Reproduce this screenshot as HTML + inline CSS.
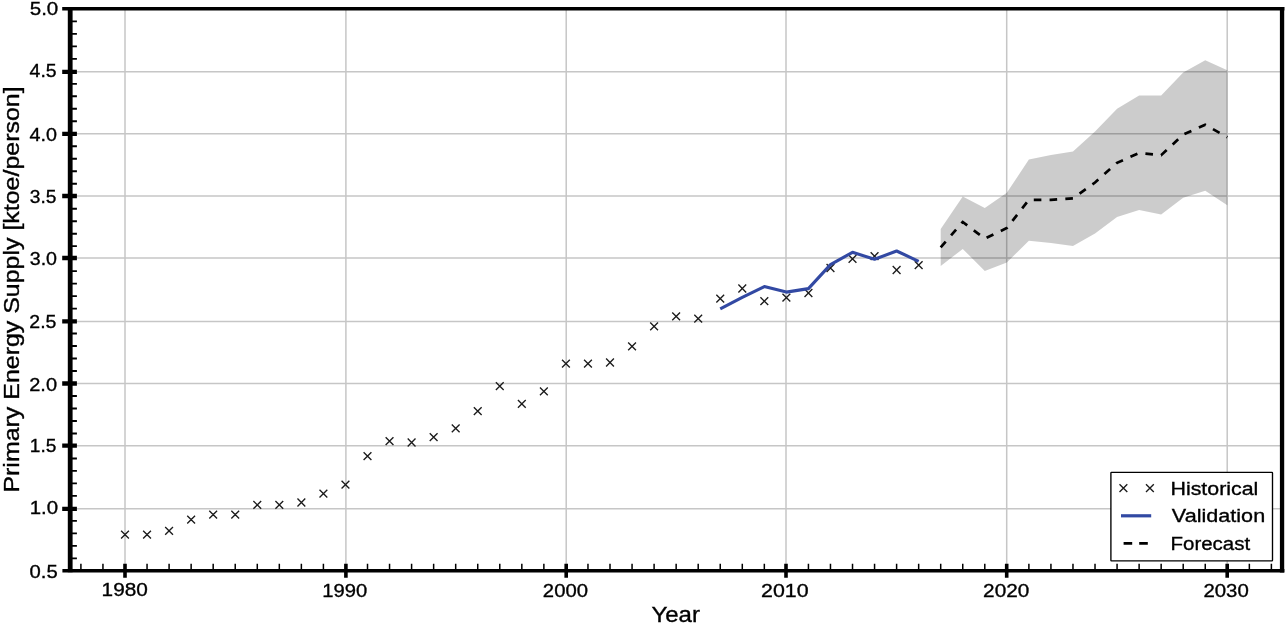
<!DOCTYPE html>
<html><head><meta charset="utf-8"><style>
html,body{margin:0;padding:0;background:#fff;width:1288px;height:627px;overflow:hidden;}
svg{display:block;font-family:"Liberation Sans",sans-serif;will-change:transform;}
text{stroke:#000;stroke-width:0.35px;}
</style></head><body>
<svg width="1288" height="627" viewBox="0 0 1288 627">
<rect width="1288" height="627" fill="#fff"/>
<line x1="125.0" y1="8.8" x2="125.0" y2="570.75" stroke="#c6c6c6" stroke-width="1.5"/>
<line x1="345.9" y1="8.8" x2="345.9" y2="570.75" stroke="#c6c6c6" stroke-width="1.5"/>
<line x1="566.2" y1="8.8" x2="566.2" y2="570.75" stroke="#c6c6c6" stroke-width="1.5"/>
<line x1="786.0" y1="8.8" x2="786.0" y2="570.75" stroke="#c6c6c6" stroke-width="1.5"/>
<line x1="1006.7" y1="8.8" x2="1006.7" y2="570.75" stroke="#c6c6c6" stroke-width="1.5"/>
<line x1="1227.2" y1="8.8" x2="1227.2" y2="570.75" stroke="#c6c6c6" stroke-width="1.5"/>
<line x1="70.2" y1="71.85" x2="1282.2" y2="71.85" stroke="#c6c6c6" stroke-width="1.5"/>
<line x1="70.2" y1="133.85" x2="1282.2" y2="133.85" stroke="#c6c6c6" stroke-width="1.5"/>
<line x1="70.2" y1="196.0" x2="1282.2" y2="196.0" stroke="#c6c6c6" stroke-width="1.5"/>
<line x1="70.2" y1="258.0" x2="1282.2" y2="258.0" stroke="#c6c6c6" stroke-width="1.5"/>
<line x1="70.2" y1="321.4" x2="1282.2" y2="321.4" stroke="#c6c6c6" stroke-width="1.5"/>
<line x1="70.2" y1="383.5" x2="1282.2" y2="383.5" stroke="#c6c6c6" stroke-width="1.5"/>
<line x1="70.2" y1="445.66" x2="1282.2" y2="445.66" stroke="#c6c6c6" stroke-width="1.5"/>
<line x1="70.2" y1="508.85" x2="1282.2" y2="508.85" stroke="#c6c6c6" stroke-width="1.5"/>
<polygon points="940.70,228.90 962.75,196.50 984.79,208.00 1006.84,192.70 1028.89,159.60 1050.93,155.10 1072.98,151.60 1095.02,131.50 1117.07,108.80 1139.12,95.60 1161.16,95.60 1183.21,72.60 1205.25,60.30 1227.30,70.30 1227.30,205.30 1205.25,190.70 1183.21,197.70 1161.16,214.50 1139.12,210.10 1117.07,216.90 1095.02,233.50 1072.98,246.00 1050.93,243.00 1028.89,240.80 1006.84,262.40 984.79,271.00 962.75,248.90 940.70,266.10" fill="#000" fill-opacity="0.2"/>
<polyline points="940.70,247.30 962.75,222.00 984.79,238.70 1006.84,228.00 1028.89,199.80 1050.93,199.80 1072.98,198.30 1095.02,182.50 1117.07,162.80 1139.12,153.00 1161.16,155.20 1183.21,134.50 1205.25,124.80 1227.30,137.20" fill="none" stroke="#000" stroke-width="2.7" stroke-dasharray="7.6,8.2" stroke-dashoffset="0"/>
<path d="M121.10,530.80L128.90,538.60M121.10,538.60L128.90,530.80M143.15,530.80L150.95,538.60M143.15,538.60L150.95,530.80M165.19,527.00L172.99,534.80M165.19,534.80L172.99,527.00M187.24,515.70L195.04,523.50M187.24,523.50L195.04,515.70M209.28,510.80L217.08,518.60M209.28,518.60L217.08,510.80M231.33,510.80L239.13,518.60M231.33,518.60L239.13,510.80M253.38,501.00L261.18,508.80M253.38,508.80L261.18,501.00M275.42,501.00L283.22,508.80M275.42,508.80L283.22,501.00M297.47,498.60L305.27,506.40M297.47,506.40L305.27,498.60M319.51,489.80L327.31,497.60M319.51,497.60L327.31,489.80M341.56,480.70L349.36,488.50M341.56,488.50L349.36,480.70M363.61,452.20L371.41,460.00M363.61,460.00L371.41,452.20M385.65,437.15L393.45,444.95M385.65,444.95L393.45,437.15M407.70,438.60L415.50,446.40M407.70,446.40L415.50,438.60M429.74,433.30L437.54,441.10M429.74,441.10L437.54,433.30M451.79,424.50L459.59,432.30M451.79,432.30L459.59,424.50M473.84,407.20L481.64,415.00M473.84,415.00L481.64,407.20M495.88,382.30L503.68,390.10M495.88,390.10L503.68,382.30M517.93,399.90L525.73,407.70M517.93,407.70L525.73,399.90M539.97,387.40L547.77,395.20M539.97,395.20L547.77,387.40M562.02,359.70L569.82,367.50M562.02,367.50L569.82,359.70M584.07,359.80L591.87,367.60M584.07,367.60L591.87,359.80M606.11,358.60L613.91,366.40M606.11,366.40L613.91,358.60M628.16,342.40L635.96,350.20M628.16,350.20L635.96,342.40M650.20,322.40L658.00,330.20M650.20,330.20L658.00,322.40M672.25,312.40L680.05,320.20M672.25,320.20L680.05,312.40M694.30,314.80L702.10,322.60M694.30,322.60L702.10,314.80M716.34,294.75L724.14,302.55M716.34,302.55L724.14,294.75M738.39,284.60L746.19,292.40M738.39,292.40L746.19,284.60M760.43,297.30L768.23,305.10M760.43,305.10L768.23,297.30M782.48,293.80L790.28,301.60M782.48,301.60L790.28,293.80M804.53,289.10L812.33,296.90M804.53,296.90L812.33,289.10M826.57,264.10L834.37,271.90M826.57,271.90L834.37,264.10M848.62,254.90L856.42,262.70M848.62,262.70L856.42,254.90M870.66,252.30L878.46,260.10M870.66,260.10L878.46,252.30M892.71,266.10L900.51,273.90M892.71,273.90L900.51,266.10M914.76,261.30L922.56,269.10M914.76,269.10L922.56,261.30" stroke="#1c1c1c" stroke-width="1.35" fill="none"/>
<polyline points="720.24,308.90 742.29,297.40 764.33,286.60 786.38,292.10 808.43,288.60 830.47,264.60 852.52,252.30 874.56,259.30 896.61,251.00 918.66,261.30" fill="none" stroke="#3249a3" stroke-width="3.1" stroke-linejoin="round"/>
<path d="M80.91,563.75L80.91,570.75M102.95,563.75L102.95,570.75M147.05,563.75L147.05,570.75M169.09,563.75L169.09,570.75M191.14,563.75L191.14,570.75M213.18,563.75L213.18,570.75M235.23,563.75L235.23,570.75M257.28,563.75L257.28,570.75M279.32,563.75L279.32,570.75M301.37,563.75L301.37,570.75M323.41,563.75L323.41,570.75M367.51,563.75L367.51,570.75M389.55,563.75L389.55,570.75M411.60,563.75L411.60,570.75M433.64,563.75L433.64,570.75M455.69,563.75L455.69,570.75M477.74,563.75L477.74,570.75M499.78,563.75L499.78,570.75M521.83,563.75L521.83,570.75M543.87,563.75L543.87,570.75M587.97,563.75L587.97,570.75M610.01,563.75L610.01,570.75M632.06,563.75L632.06,570.75M654.10,563.75L654.10,570.75M676.15,563.75L676.15,570.75M698.20,563.75L698.20,570.75M720.24,563.75L720.24,570.75M742.29,563.75L742.29,570.75M764.33,563.75L764.33,570.75M808.43,563.75L808.43,570.75M830.47,563.75L830.47,570.75M852.52,563.75L852.52,570.75M874.56,563.75L874.56,570.75M896.61,563.75L896.61,570.75M918.66,563.75L918.66,570.75M940.70,563.75L940.70,570.75M962.75,563.75L962.75,570.75M984.79,563.75L984.79,570.75M1028.89,563.75L1028.89,570.75M1050.93,563.75L1050.93,570.75M1072.98,563.75L1072.98,570.75M1095.02,563.75L1095.02,570.75M1117.07,563.75L1117.07,570.75M1139.12,563.75L1139.12,570.75M1161.16,563.75L1161.16,570.75M1183.21,563.75L1183.21,570.75M1205.25,563.75L1205.25,570.75M1249.35,563.75L1249.35,570.75M1271.39,563.75L1271.39,570.75" stroke="#000" stroke-width="1.5"/>
<path d="M70.2,558.33L76.9,558.33M70.2,545.84L76.9,545.84M70.2,533.36L76.9,533.36M70.2,520.87L76.9,520.87M70.2,495.90L76.9,495.90M70.2,483.41L76.9,483.41M70.2,470.92L76.9,470.92M70.2,458.44L76.9,458.44M70.2,433.46L76.9,433.46M70.2,420.98L76.9,420.98M70.2,408.49L76.9,408.49M70.2,396.00L76.9,396.00M70.2,371.03L76.9,371.03M70.2,358.54L76.9,358.54M70.2,346.06L76.9,346.06M70.2,333.57L76.9,333.57M70.2,308.60L76.9,308.60M70.2,296.11L76.9,296.11M70.2,283.62L76.9,283.62M70.2,271.14L76.9,271.14M70.2,246.16L76.9,246.16M70.2,233.68L76.9,233.68M70.2,221.19L76.9,221.19M70.2,208.70L76.9,208.70M70.2,183.73L76.9,183.73M70.2,171.24L76.9,171.24M70.2,158.76L76.9,158.76M70.2,146.27L76.9,146.27M70.2,121.30L76.9,121.30M70.2,108.81L76.9,108.81M70.2,96.32L76.9,96.32M70.2,83.84L76.9,83.84M70.2,58.86L76.9,58.86M70.2,46.38L76.9,46.38M70.2,33.89L76.9,33.89M70.2,21.40L76.9,21.40" stroke="#000" stroke-width="1.9"/>
<path d="M125.0,563.75L125.0,577.75M345.9,563.75L345.9,577.75M566.2,563.75L566.2,577.75M786.0,563.75L786.0,577.75M1006.7,563.75L1006.7,577.75M1227.2,563.75L1227.2,577.75" stroke="#000" stroke-width="3.6"/>
<path d="M62.2,71.85L76.9,71.85M62.2,133.85L76.9,133.85M62.2,196.0L76.9,196.0M62.2,258.0L76.9,258.0M62.2,321.4L76.9,321.4M62.2,383.5L76.9,383.5M62.2,445.66L76.9,445.66M62.2,508.85L76.9,508.85" stroke="#000" stroke-width="4.3"/>
<line x1="62.2" y1="8.8" x2="1284.4" y2="8.8" stroke="#000" stroke-width="3.6"/>
<line x1="70.2" y1="7.000000000000001" x2="70.2" y2="572.35" stroke="#000" stroke-width="4.8"/>
<line x1="62.4" y1="570.8" x2="1284.4" y2="570.8" stroke="#000" stroke-width="3.4"/>
<line x1="1282.05" y1="7.000000000000001" x2="1282.05" y2="572.5" stroke="#000" stroke-width="4.3"/>
<text transform="translate(101.58,595.52) scale(1.0773,0.9650)" font-size="19.3">1980</text>
<text transform="translate(322.33,596.54) scale(1.0479,0.9650)" font-size="19.3">1990</text>
<text transform="translate(542.85,596.71) scale(1.0521,0.9650)" font-size="19.3">2000</text>
<text transform="translate(761.09,596.66) scale(1.1079,0.9650)" font-size="19.3">2010</text>
<text transform="translate(983.12,596.66) scale(1.0764,0.9650)" font-size="19.3">2020</text>
<text transform="translate(1203.44,596.66) scale(1.0570,0.9650)" font-size="19.3">2030</text>
<text transform="translate(29.70,15.34) scale(1.0653,0.9650)" font-size="19.3">5.0</text>
<text transform="translate(29.60,77.44) scale(1.0078,0.9650)" font-size="19.3">4.5</text>
<text transform="translate(29.59,140.74) scale(1.0235,0.9650)" font-size="19.3">4.0</text>
<text transform="translate(29.75,203.04) scale(0.9941,0.9650)" font-size="19.3">3.5</text>
<text transform="translate(29.74,265.14) scale(1.0178,0.9650)" font-size="19.3">3.0</text>
<text transform="translate(29.29,327.51) scale(1.0120,0.9650)" font-size="19.3">2.5</text>
<text transform="translate(29.26,390.51) scale(1.0360,0.9650)" font-size="19.3">2.0</text>
<text transform="translate(29.81,452.39) scale(0.9918,0.9650)" font-size="19.3">1.5</text>
<text transform="translate(29.71,514.44) scale(1.0571,0.9650)" font-size="19.3">1.0</text>
<text transform="translate(29.51,577.74) scale(1.0495,0.9650)" font-size="19.3">0.5</text>
<text transform="translate(651.45,621.77) scale(1.0920,1.0000)" font-size="22">Year</text>
<text transform="translate(18.89,492.58) scale(1.0200,1.1341) rotate(-90)" font-size="22">Primary Energy Supply [ktoe/person]</text>
<rect x="1110.9" y="472.4" width="161.6" height="88.45" rx="0.6" fill="#fff" stroke="#000" stroke-width="1.35"/>
<path d="M1119.5,484.20000000000005L1127.3000000000002,492.0M1119.5,492.0L1127.3000000000002,484.20000000000005" stroke="#1c1c1c" stroke-width="1.35"/>
<path d="M1146.0,484.20000000000005L1153.8000000000002,492.0M1146.0,492.0L1153.8000000000002,484.20000000000005" stroke="#1c1c1c" stroke-width="1.35"/>
<line x1="1121" y1="515.8" x2="1151.2" y2="515.8" stroke="#3249a3" stroke-width="3.2"/>
<line x1="1123.6" y1="543.3" x2="1148.0" y2="543.3" stroke="#000" stroke-width="2.7" stroke-dasharray="8.6,7"/>
<text transform="translate(1170.44,494.86) scale(1.1085,0.9650)" font-size="19.3">Historical</text>
<text transform="translate(1171.82,522.11) scale(1.1205,0.9650)" font-size="19.3">Validation</text>
<text transform="translate(1170.51,549.89) scale(1.0612,0.9650)" font-size="19.3">Forecast</text>
</svg>
</body></html>
